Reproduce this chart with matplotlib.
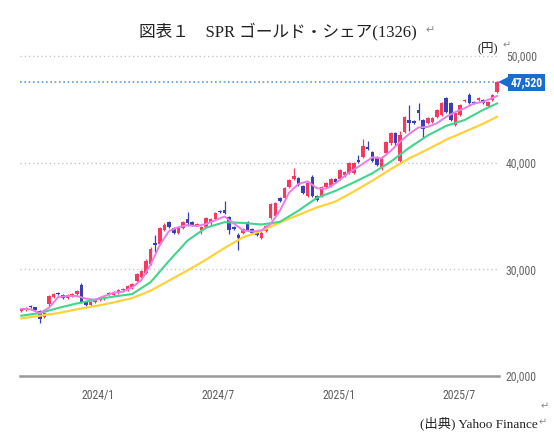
import matplotlib
matplotlib.use('Agg')
import matplotlib.pyplot as plt
import numpy as np
import pandas as pd
from matplotlib.ticker import FixedLocator, FuncFormatter

# ---------------- data (weekly candles, yen) ----------------
week_start = '2023-09-07'
n_weeks = 104

opens = [26100, 26200, 26600, 26450, 26100, 25500, 26750, 27400, 27800, 27550,
         27300, 27500, 27650, 28500, 26900, 26650, 26900, 27100, 27250, 27800,
         27600, 27800, 28050, 28100, 28300, 28900, 29300, 29700, 30500, 32500,
         32400, 33700, 34400, 33900, 33450, 33900, 34750, 34400, 34200, 33700,
         33950, 34300, 34700, 35500, 35600, 34900, 34000, 33200, 33450, 34400,
         33800, 33600, 32900, 33600, 34850, 35000, 36650, 36650, 37700, 38500,
         38600, 37850, 36900, 38700, 36900, 36900, 37700, 37850, 38450, 38500,
         38800, 39000, 39000, 40250, 40500, 41500, 41000, 40500, 39600, 40950,
         41800, 42800, 40200, 42850, 44000, 43900, 44900, 44000, 43700, 43800,
         44250, 44450, 46050, 45600, 43500, 44450, 45750, 46300, 45700, 45900,
         45900, 45300, 45900, 46600]
closes = [26300, 26350, 26450, 26200, 25300, 25900, 27500, 27650, 27650, 27350,
          27550, 27650, 27950, 26900, 26700, 26900, 27150, 27300, 27450, 27650,
          27850, 28050, 28150, 28400, 28600, 29600, 29800, 30800, 31900, 32300,
          33900, 34200, 34000, 33400, 33900, 34400, 34300, 34200, 34250, 34000,
          34850, 34750, 35250, 35350, 35300, 33700, 33800, 32950, 33800, 33700,
          33450, 33200, 33450, 34100, 36150, 36200, 36400, 37600, 38350, 38750,
          37900, 37150, 38100, 36900, 36500, 37700, 38050, 38500, 38200, 39300,
          39100, 39950, 40000, 40050, 41600, 41300, 40200, 39750, 40400, 41900,
          42800, 41800, 42600, 44250, 43750, 43750, 44650, 43200, 44150, 44150,
          44900, 45600, 44750, 44000, 44650, 45400, 45900, 45600, 45600, 46100,
          45600, 45700, 46300, 47520]
highs = [26400, 26450, 26700, 26500, 26200, 26000, 27600, 27750, 27900, 27650,
         27650, 27750, 28050, 28700, 27000, 27000, 27250, 27400, 27550, 27900,
         27950, 28150, 28250, 28500, 28700, 29700, 29950, 30950, 32100, 33200,
         34000, 34350, 34500, 34000, 34000, 34500, 35350, 34500, 34350, 34100,
         34950, 34850, 35350, 35600, 36400, 35000, 34100, 33400, 33900, 34500,
         33900, 33700, 33550, 34200, 36250, 36300, 36750, 37700, 38450, 39500,
         38700, 37950, 38200, 38800, 37000, 37800, 38150, 38600, 38550, 39400,
         39200, 40050, 40100, 40700, 42200, 42000, 41100, 40600, 40600, 42000,
         42900, 42900, 43000, 44350, 45400, 44000, 45600, 44100, 44250, 44250,
         45000, 45700, 46150, 45700, 44750, 45500, 46000, 46500, 45800, 46200,
         46000, 45800, 46400, 47600]
lows = [26000, 26100, 26350, 26100, 25000, 25400, 26600, 27300, 27550, 27250,
        27200, 27400, 27550, 26800, 26600, 26550, 26800, 27000, 27150, 27550,
        27500, 27700, 27950, 28000, 28200, 28800, 29200, 29600, 30400, 31600,
        32300, 33600, 33900, 33300, 33350, 33800, 34100, 34100, 34100, 33300,
        33850, 34200, 34600, 35250, 35200, 33300, 33700, 31800, 33350, 33600,
        33350, 33100, 32800, 33500, 34750, 34900, 36300, 36550, 37600, 38400,
        37800, 37050, 36800, 36800, 36400, 36800, 37600, 37750, 38100, 38400,
        38700, 38900, 38900, 39950, 40400, 41200, 40100, 39650, 39300, 40850,
        41700, 41700, 39900, 42750, 43000, 43650, 44000, 42300, 43600, 43700,
        44150, 44350, 44650, 43900, 43400, 44350, 45650, 45500, 45500, 45800,
        45500, 45200, 45800, 46500]

# moving averages (value at given week number)
slow_ma_weeks = [0, 4, 8, 12, 16, 20, 24, 28, 32, 36, 40, 44, 48, 52,
                 56, 60, 64, 68, 72, 76, 80, 84, 88, 92, 96, 100, 103]
ma_yellow = [25400, 25650, 25900, 26250, 26550, 26900, 27300, 28000, 28950,
             29900, 30900, 32000, 33000, 33600, 34400, 35100, 35800, 36350,
             37300, 38300, 39400, 40400, 41250, 42150, 42900, 43650, 44300]
ma_green = [25650, 25900, 26380, 26800, 27150, 27450, 27680, 28800, 30800,
            32700, 33900, 34420, 34350, 34200, 34450, 35500, 36700, 37350,
            38150, 39000, 40100, 41400, 42550, 43450, 44000, 44950, 45550]
fast_ma_weeks = list(range(0, 104, 2)) + [103]
ma_pink = [26300, 26250, 25900, 26400, 27400, 27500, 27500, 27250, 27150, 27500,
           27800, 27900, 28300, 29000, 30450, 32300, 33600, 33950, 34150, 34050,
           34250, 34600, 34950, 34300, 33650, 33550, 33650, 34250, 35500, 37200,
           38000, 38250, 37600, 37550, 38050, 38750, 39350, 39900, 40500, 40400,
           41100, 41950, 42700, 43300, 43350, 43700, 44300, 44750, 45100, 45550,
           45700, 46050, 46250]

y_ticks = [20000, 30000, 40000, 50000]
x_tick_dates = ['2024-01-01', '2024-07-01', '2025-01-01', '2025-07-01']
x_tick_labels = ['2024/1', '2024/7', '2025/1', '2025/7']
last_price = 47520

# ---------------- styles ----------------
UP = '#f8385e'
DOWN = '#3b3fb6'
C_PINK = '#ea7de6'
C_GREEN = '#3fd68c'
C_YELLOW = '#ffd23c'
NARROW = ['Roboto Condensed', 'Liberation Sans Narrow', 'Roboto', 'DejaVu Sans']
SERIF = ['Liberation Serif', 'Noto Sans CJK JP', 'DejaVu Sans']

fig = plt.figure(figsize=(5.54, 4.32), dpi=100)
fig.patch.set_facecolor('white')
ax = fig.add_axes([20 / 554, 1 - 376 / 432, 479 / 554, (376 - 45.3) / 432])

dates = pd.date_range(week_start, periods=n_weeks, freq='7D')
o = np.array(opens, float)
c = np.array(closes, float)
h = np.array(highs, float)
l = np.array(lows, float)
cols = [UP if cc >= oo else DOWN for oo, cc in zip(o, c)]

# gridlines
for yv in y_ticks[1:]:
    ax.axhline(yv, color='#c8c8c8', lw=1.0, ls=(0, (1, 2)), zorder=1)
ax.axhline(last_price, color='#5b9bd8', lw=1.2, ls=(0, (1, 1.6)), zorder=1)

# candles
ax.vlines(dates, l, h, colors=cols, lw=0.9, zorder=2)
body = np.maximum(np.abs(c - o), 90)
ax.bar(dates, body, bottom=np.minimum(o, c), width=5.4, color=cols,
       lw=0, zorder=2)

# moving averages
ax.plot(dates[slow_ma_weeks], ma_yellow, color=C_YELLOW, lw=1.6, zorder=3)
ax.plot(dates[slow_ma_weeks], ma_green, color=C_GREEN, lw=1.5, zorder=3)
ax.plot(dates[fast_ma_weeks], ma_pink, color=C_PINK, lw=1.4, zorder=3)

ax.set_ylim(20000, 51000)
ax.set_xlim(pd.Timestamp('2023-09-05'), pd.Timestamp('2025-08-31'))

for s in ['top', 'left', 'right']:
    ax.spines[s].set_visible(False)
ax.spines['bottom'].set_color('#999999')
ax.spines['bottom'].set_linewidth(1.8)

ax.yaxis.tick_right()
ax.yaxis.set_major_locator(FixedLocator(y_ticks))
ax.yaxis.set_major_formatter(FuncFormatter(lambda v, p: f'{int(v):,}'))
ax.tick_params(axis='y', length=0, pad=5, labelcolor='#666666', labelsize=8.5)
ax.set_xticks(pd.to_datetime(x_tick_dates))
ax.set_xticklabels(x_tick_labels)
ax.tick_params(axis='x', length=0, pad=9, labelcolor='#5e5e5e', labelsize=8.5)
for t in ax.get_xticklabels() + ax.get_yticklabels():
    t.set_family(NARROW)

# last price tag
tr = matplotlib.transforms.blended_transform_factory(ax.transAxes, ax.transData)
ax.plot([1.010], [last_price], marker='<', ms=8.5, color='#1a6dd0', mew=0,
        transform=tr, clip_on=False, zorder=4)
ax.text(1.024, last_price, f'{last_price:,}', transform=tr, ha='left', va='center',
        color='white', fontsize=8.5, fontweight='bold', family=NARROW,
        bbox=dict(boxstyle='square,pad=0.2', fc='#1a6dd0', ec='none'), zorder=5)

# texts
fig.text(278 / 554, 1 - 31 / 432, '図表１　SPR ゴールド・シェア(1326)', ha='center',
         va='center', fontsize=12, family=SERIF, color='#222222')
fig.text(425 / 554, 1 - 31 / 432, '↵', ha='left', va='center', fontsize=8,
         family=SERIF, color='#888888')
fig.text(498 / 554, 1 - 49 / 432, '(円)', ha='right', va='center', fontsize=9,
         family=SERIF, color='#222222')
fig.text(503 / 554, 1 - 46 / 432, '↵', ha='left', va='center', fontsize=7,
         family=SERIF, color='#888888')
fig.text(538 / 554, 1 - 423 / 432, '(出典) Yahoo Finance', ha='right', va='center',
         fontsize=9.5, family=SERIF, color='#222222')
fig.text(539 / 554, 1 - 423 / 432, '↵', ha='left', va='center', fontsize=7,
         family=SERIF, color='#888888')
fig.text(541 / 554, 1 - 407 / 432, '↵', ha='left', va='center', fontsize=7,
         family=SERIF, color='#888888')

fig.savefig('out.png', dpi=100, facecolor='white')
